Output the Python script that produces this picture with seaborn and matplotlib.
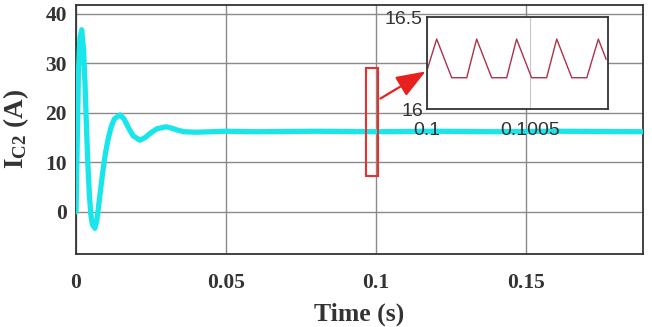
import numpy as np
import pandas as pd
import seaborn as sns
import matplotlib
matplotlib.use("Agg")
import matplotlib.pyplot as plt
from matplotlib.patches import Rectangle, FancyArrowPatch

# ---- main waveform ----
time_s = [0.0, 0.0004, 0.0008, 0.0013, 0.0019, 0.0025, 0.003, 0.0035, 0.004,
          0.0045, 0.005, 0.0055, 0.0063, 0.007, 0.0078, 0.0088, 0.0098, 0.0108,
          0.0118, 0.0128, 0.0147, 0.016, 0.0175, 0.019, 0.0213, 0.023, 0.025,
          0.027, 0.030, 0.032, 0.034, 0.036, 0.040, 0.050, 0.060, 0.080, 0.100,
          0.120, 0.140, 0.160, 0.189]
current_a = [0.0, 14.0, 28.0, 35.0, 36.8, 33.0, 26.0, 17.0, 9.0,
             3.0, -0.8, -2.6, -3.3, -1.5, 2.5, 7.5, 11.8, 15.0,
             17.3, 18.8, 19.6, 18.8, 17.0, 15.4, 14.5, 15.0, 16.0,
             16.8, 17.2, 16.9, 16.5, 16.2, 16.1, 16.3, 16.2, 16.3, 16.2,
             16.3, 16.2, 16.3, 16.2]

# ---- inset (zoomed ripple) ----
zoom_t = [0.1, 0.100047, 0.100120, 0.100193, 0.100241, 0.100314, 0.100387,
          0.100435, 0.100508, 0.100581, 0.100630, 0.100703, 0.100776,
          0.100832, 0.100870]
zoom_i = [16.21, 16.38, 16.17, 16.17, 16.38, 16.17, 16.17,
          16.38, 16.17, 16.17, 16.38, 16.17, 16.17, 16.38, 16.27]

x_ticks = [0, 0.05, 0.1, 0.15]
x_ticklabels = ["0", "0.05", "0.1", "0.15"]
y_ticks = [0, 10, 20, 30, 40]
inset_xticks = [0.1, 0.1005]
inset_xticklabels = ["0.1", "0.1005"]
inset_yticks = [16, 16.5]
inset_yticklabels = ["16", "16.5"]

sns.set_theme(style="white")
plt.rcParams['font.family'] = ['Liberation Serif', 'DejaVu Serif']
plt.rcParams['mathtext.fontset'] = 'custom'
plt.rcParams['mathtext.rm'] = 'Liberation Serif'
plt.rcParams['mathtext.bf'] = 'Liberation Serif:bold'
plt.rcParams['mathtext.it'] = 'Liberation Serif:italic'

TXT = "#333333"
fig = plt.figure(figsize=(6.52, 3.27), dpi=100)
ax = fig.add_axes([76/652, 1-254/327, (643-76)/652, (254-5)/327])

df = pd.DataFrame({"t": time_s, "i": current_a})
sns.lineplot(data=df, x="t", y="i", ax=ax, color="#19e6ea", lw=3.8,
             estimator=None, sort=False, zorder=3)

ax.set_xlim(0, 0.189)
ax.set_ylim(-8.5, 41.8)
ax.set_xticks(x_ticks)
ax.set_xticklabels(x_ticklabels)
ax.set_yticks(y_ticks)
ax.grid(True, color="#8a8a8a", lw=1.0, zorder=0)
ax.tick_params(direction="in", length=4, width=1, colors="#222222",
               labelsize=15.5)
ax.tick_params(axis="x", pad=14)
ax.tick_params(axis="y", pad=6.5)
for lab in ax.get_xticklabels() + ax.get_yticklabels():
    lab.set_fontweight("bold")
    lab.set_color(TXT)
for sp in ax.spines.values():
    sp.set_color(TXT)
    sp.set_linewidth(1.3)
ax.set_xlabel("Time (s)", fontsize=18.5, fontweight="bold", color=TXT)
ax.xaxis.set_label_coords(0.5, -0.195)
ax.set_ylabel(r"$\mathbf{I}_{\mathbf{C2}}$ (A)", fontsize=19.5, fontweight="bold",
              color=TXT)
ax.yaxis.set_label_coords(-0.079, 0.5)

# red selection rectangle
ax.add_patch(Rectangle((0.0967, 7.3), 0.0040, 21.8, fill=False,
                       edgecolor="#e8302e", lw=1.5, zorder=5))

# inset
axin = fig.add_axes([427/652, 1-109/327, (608-427)/652, (109-17)/327])
dfz = pd.DataFrame({"t": zoom_t, "i": zoom_i})
sns.lineplot(data=dfz, x="t", y="i", ax=axin, color="#b0304a", lw=1.0,
             estimator=None, sort=False)
axin.set_xlim(0.1, 0.100879)
axin.set_ylim(16, 16.5)
axin.set_xticks(inset_xticks)
axin.set_xticklabels(inset_xticklabels)
axin.set_yticks(inset_yticks)
axin.set_yticklabels(inset_yticklabels)
axin.set_xlabel("")
axin.set_ylabel("")
axin.grid(True, axis="x", color="#c8c8c8", lw=0.8)
axin.tick_params(length=0, labelsize=14, colors=TXT)
axin.tick_params(axis="x", pad=9.5)
axin.tick_params(axis="y", pad=3)
for lab in axin.get_xticklabels() + axin.get_yticklabels():
    lab.set_family(["Liberation Sans", "DejaVu Sans"])
for sp in axin.spines.values():
    sp.set_color(TXT)
    sp.set_linewidth(1.3)
axin.set_facecolor("white")

# arrow
fig.patches.append(FancyArrowPatch(
    (378/652, 1-100/327), (428/652, 1-70/327), transform=fig.transFigure,
    arrowstyle="-|>,head_length=9,head_width=3.4", color="#e8201e", lw=1.6,
    mutation_scale=2))

fig.savefig("out.png", dpi=100)
